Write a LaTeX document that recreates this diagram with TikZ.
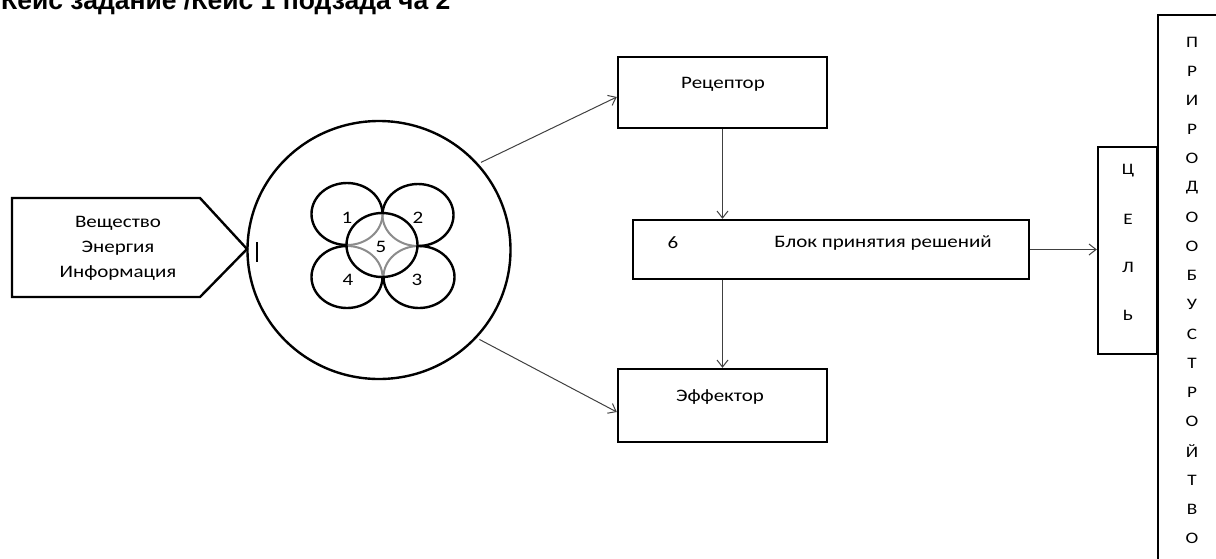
\documentclass[tikz,border=0pt]{standalone}
\usepackage{fontspec}
\setmainfont{Carlito}[FakeStretch=1.2]
\newfontfamily\titlefont{Liberation Sans}
\usetikzlibrary{arrows.meta,calc,shapes.geometric}
\begin{document}
\begin{tikzpicture}[x=1pt,y=-1pt,
  box/.style={draw=black,line width=2.4pt,rectangle,inner sep=0pt},
  arr/.style={draw=black!75,line width=1pt,-{Straight Barb[length=7pt,width=11pt]}},
  lbl/.style={font=\fontsize{17.5}{25}\selectfont,inner sep=0pt},
  letter/.style={font=\fontsize{16}{18}\selectfont,inner sep=0pt},
  ring/.style={draw=black,line width=2.4pt},
  inring/.style={draw=black!45,line width=2pt}
]
\useasboundingbox (0,0) rectangle (1216,558);
\clip (0,0) rectangle (1216,558);

% title (cut off at the top, as in the reference)
\node[anchor=base west,font=\titlefont\bfseries\fontsize{26.5}{30}\selectfont,inner sep=0pt] (title) at (1,9) {Кейс задание /Кейс 1 подзада ча 2};

% input pentagon
\draw[ring] (12,198) -- (200,198) -- (247,249) -- (200,297) -- (12,297) -- cycle;
\node[lbl,align=center] (src) at (118,248) {Вещество\\Энергия\\Информация};
\draw[line width=2.4pt] (257,242) -- (257,262);

% big circle
\node[ring,ellipse,minimum width=263,minimum height=258,inner sep=0pt] (big) at (379,250) {};

% four petals and the centre circle
\draw[ring] (347,214) ellipse [x radius=35.5,y radius=31];
\draw[ring] (418,215) ellipse [x radius=35.5,y radius=31];
\draw[ring] (347,277) ellipse [x radius=35.5,y radius=31];
\draw[ring] (419,277) ellipse [x radius=35.5,y radius=31];
\fill[white] (382,245) ellipse [x radius=35.5,y radius=32];
\begin{scope}
  \clip (382,245) ellipse [x radius=35.5,y radius=32];
  \draw[inring] (347,214) ellipse [x radius=35.5,y radius=31];
  \draw[inring] (418,215) ellipse [x radius=35.5,y radius=31];
  \draw[inring] (347,277) ellipse [x radius=35.5,y radius=31];
  \draw[inring] (419,277) ellipse [x radius=35.5,y radius=31];
\end{scope}
\draw[ring] (382,245) ellipse [x radius=35.5,y radius=32];
\node[lbl] (n1) at (347,218) {1};
\node[lbl] (n2) at (418,218) {2};
\node[lbl] (n5) at (381,247) {5};
\node[lbl] (n4) at (348,280) {4};
\node[lbl] (n3) at (417,280) {3};

% boxes
\node[box,minimum width=209,minimum height=71] (rec) at (722.5,92.5) {};
\node[lbl] (rect) at (723,84) {Рецептор};
\node[box,minimum width=209,minimum height=73] (eff) at (722.5,405.5) {};
\node[lbl] (efft) at (720,397) {Эффектор};
\node[box,minimum width=396,minimum height=59] (dec) at (831,249.5) {};
\node[lbl] (dec6) at (673,243) {6};
\node[lbl] (dect) at (883,243) {Блок принятия решений};

% goal box
\node[box,minimum width=59,minimum height=207] (cel) at (1127.5,250.5) {};
\foreach \ch [count=\i from 0] in {Ц,Е,Л,Ь}
  \node[letter] (c\i) at (1128,171+48*\i) {\ch};

% nature-arrangement box (runs off the picture)
\node[box,minimum width=82,minimum height=565] (pr) at (1199,297.5) {};
\foreach \ch [count=\i from 0] in {П,Р,И,Р,О,Д,О,О,Б,У,С,Т,Р,О,Й,Т,В,О}
  \node[letter] (p\i) at (1192,42+29.2*\i) {\ch};

% connectors
\draw[arr,shorten <=3pt] (big.41) -- ([yshift=-4.5pt]rec.west);
\draw[arr,shorten <=3pt] (big.-42) -- ([yshift=-6.5pt]eff.west);
\draw[arr] (rec.south) -- (rec.south |- dec.north);
\draw[arr] (eff.north |- dec.south) -- (eff.north);
\draw[arr] (dec.east) -- (dec.east -| cel.west);
\end{tikzpicture}
\end{document}
